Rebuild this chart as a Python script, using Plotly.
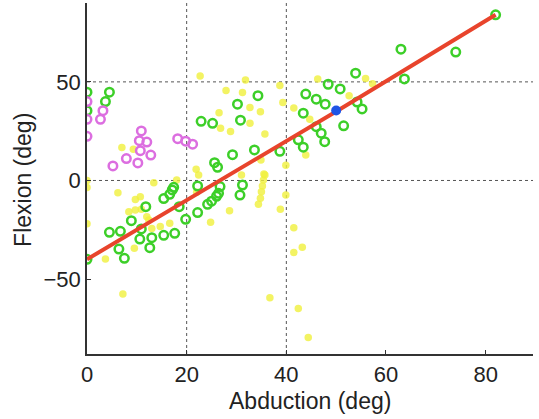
import plotly.graph_objects as go

# Green open circles (abduction, flexion)
green_x = [0, 0, 4.5, 3.7, 22.9, 25.2, 30.2, 34.3, 30.8, 29.2, 33.6, 38.7, 25.6, 26.2,
           43.9, 46, 47.8, 48.4, 43.4, 46, 47, 47.7, 42.4, 43.4,
           50.8, 53.9, 54.2, 55.2, 51.5, 63, 63.7, 74, 82,
           0, 4.5, 6.7, 8.9, 11.8, 6.4, 7.5, 10.6, 10.9, 13, 12.6, 15.4, 17.6, 15.4, 16.6,
           17.1, 17.4, 18.5, 19.8, 22.2, 22.2, 24.2, 25.0, 26.0, 26.4, 26.7, 30.7, 31.2]
green_y = [44.8, 35.4, 44.8, 40, 30, 29, 38.7, 43, 30.6, 13.1, 15.5, 14.8, 9, 6.7,
           43.8, 41.2, 38.7, 48.8, 34.1, 27.3, 24, 19.7, 20.6, 16.9,
           46.4, 54.4, 39.8, 36.3, 27.7, 66.6, 51.5, 65.1, 84,
           -40, -26.3, -25.8, -20.4, -13.3, -34.8, -39.5, -29.7, -24.6, -29, -34.1, -27.8, -26.8, -9.2, -7,
           -4.8, -3.5, -13.3, -19.7, -16.3, -2.8, -12.1, -10.5, -8, -6.5, -3.1, -7.4, -2.3]

# Magenta open circles
mag_x = [0, 0, 0, 3.2, 2.7, 10.9, 10.5, 12, 10.7, 12.8, 7.9, 10.2, 5.2, 18.2, 19.8, 21.2]
mag_y = [40, 31, 22.4, 35.4, 31, 25.1, 20.2, 19.5, 15.1, 12.9, 11.1, 8.9, 7.4, 21.2, 19.9, 18.4]

# Yellow filled dots
yel_x = [22.7, 31.8, 38.7, 46.3, 55.9, 57.3, 52.6,
         27.9, 31.2, 39.3, 32.7, 34.8, 26.5, 41.5, 44.7, 32.7, 26.8, 28.8, 35.7,
         34.9, 39.9, 43.9, 31, 35.7,
         7, 9.3, 21.9, 22.4,
         0, 0, 0, 6.2, 9.7, 10.7, 8.4, 9.7, 10.9, 12.4, 12, 13, 14.7, 16.6, 9.5, 3.7, 7.2,
         13.4, 18, 22.0,
         35.5, 35.4, 35.2, 35, 34.8, 34.4, 28.6, 24.8, 39.9, 38.8, 41.5, 41.5, 43.2,
         36.7, 42.4, 44.4]
yel_y = [53, 51, 48.1, 51.4, 51.7, 49, 43,
         45.6, 44.6, 39.5, 37, 34.9, 34.4, 36.8, 31, 29, 26.5, 24.8, 23.6,
         10.4, 7.7, 12.9, 2.8, 2.8,
         16.7, 15.8, 5.7, 2.8,
         0, -3.6, -22, -6.2, -9.6, -8.2, -15.8, -15, -14.6, -20, -18.4, -24.3, -23.4, -21.7, -34.4, -39.8, -57.6,
         -1.1, 0.3, -6.0,
         3.3, 0.3, -2.8, -5.7, -9, -12.1, -15.3, -21.2, -7.4, -14.6, -24, -36.5, -33.9,
         -59.5, -64.9, -79.6]

# Fitted red line and blue point
line_x = [0, 50, 82]
line_y = [-40, 35, 84]
blue_x = [50]
blue_y = [35.5]

x_ticks = [0, 20, 40, 60, 80]
y_ticks = [-50, 0, 50]
x_grid = [20, 40]
y_grid = [0, 50]

fig = go.Figure()
fig.add_trace(go.Scatter(x=yel_x, y=yel_y, mode="markers",
                         marker=dict(color="rgba(240,240,60,0.8)", size=7.5, line=dict(width=0))))
fig.add_trace(go.Scatter(x=green_x, y=green_y, mode="markers",
                         marker=dict(symbol="circle-open", color="#3ccf28", size=8.5, line=dict(width=2.5))))
fig.add_trace(go.Scatter(x=mag_x, y=mag_y, mode="markers",
                         marker=dict(symbol="circle-open", color="#dc6ee0", size=8.5, line=dict(width=2.5))))
fig.add_trace(go.Scatter(x=line_x, y=line_y, mode="lines",
                         line=dict(color="#e8442c", width=4)))
fig.add_trace(go.Scatter(x=blue_x, y=blue_y, mode="markers",
                         marker=dict(color="#1f55e6", size=10)))

for gx in x_grid:
    fig.add_shape(type="line", xref="x", yref="paper", x0=gx, x1=gx, y0=0, y1=1,
                  line=dict(color="#555", width=1, dash="dot"), layer="below")
for gy in y_grid:
    fig.add_shape(type="line", xref="paper", yref="y", x0=0, x1=1, y0=gy, y1=gy,
                  line=dict(color="#555", width=1, dash="dot"), layer="below")

tick_font = dict(family="Liberation Sans, Arial, sans-serif", size=22, color="#222")
title_font = dict(family="Liberation Sans, Arial, sans-serif", size=23, color="#222")

fig.update_layout(
    width=539, height=419,
    margin=dict(l=87, r=6, t=3, b=65),
    paper_bgcolor="white", plot_bgcolor="white",
    showlegend=False,
    font=tick_font,
    xaxis=dict(range=[0, 89.5], tickvals=x_ticks, showgrid=False, zeroline=False,
               showline=True, linecolor="#333", linewidth=1.5,
               ticks="inside", ticklen=4, tickcolor="#333", tickfont=tick_font),
    yaxis=dict(range=[-88, 90], tickvals=y_ticks, showgrid=False, zeroline=False,
               showline=True, linecolor="#333", linewidth=1.5,
               ticks="inside", ticklen=4, tickcolor="#333", tickfont=tick_font,
               tickformat="d"),
    annotations=[
        dict(text="Abduction (deg)", xref="paper", yref="paper", x=0.5, y=-0.135,
             xanchor="center", yanchor="middle", showarrow=False, font=title_font),
        dict(text="Flexion (deg)", xref="paper", yref="paper", x=-0.142, y=0.495,
             xanchor="center", yanchor="middle", showarrow=False, textangle=-90, font=title_font),
    ],
)

fig.write_html("out.html")
